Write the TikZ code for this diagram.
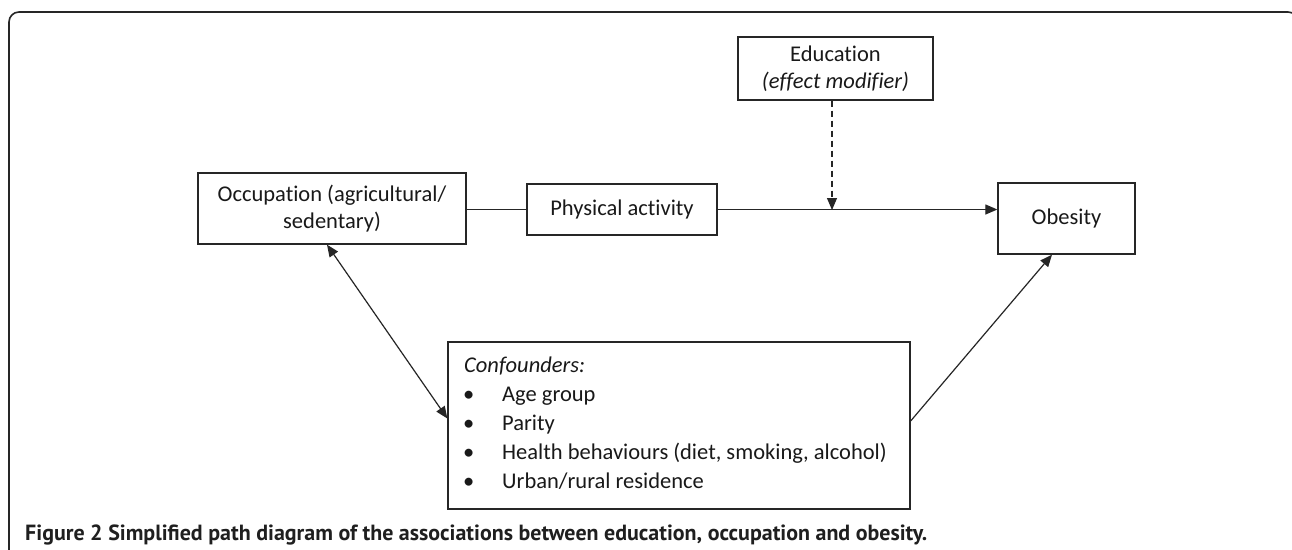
\documentclass[tikz,border=0pt]{standalone}
\usepackage{fontspec}
\setmainfont{Carlito}[Ligatures=NoCommon]
\newfontfamily\capfont{PT Sans}
\usetikzlibrary{arrows.meta}
\begin{document}
\begin{tikzpicture}[x=1pt,y=-1pt,
  box/.style={draw=black!85,line width=1.3pt,inner sep=0pt,align=center,font=\fontsize{22.5}{26.5}\selectfont,text=black!90},
  ltxt/.style={anchor=base west,inner sep=0pt,font=\fontsize{22.5}{27}\selectfont,text=black!90},
  conn/.style={draw=black!85,line width=1.2pt},
  tip/.style={-{Triangle[length=12pt,width=10pt]}},
  dtip/.style={{Triangle[length=12pt,width=10pt]}-{Triangle[length=12pt,width=10pt]}}]
\useasboundingbox (0,0) rectangle (1292,549);
\clip (0,0) rectangle (1292,549);
\fill[white] (0,0) rectangle (1292,549);
\draw[line width=1.6pt,rounded corners=10pt,black!85] (9,570) -- (9,12) -- (1298,12) -- (1298,570);
\node[box,minimum width=195pt,minimum height=63pt] (edu) at (835.5,68.5) {Education\\\textit{(effect modifier)}};
\node[box,minimum width=268pt,minimum height=71pt] (occ) at (332,208.5) {Occupation (agricultural/\\sedentary)};
\node[box,minimum width=190pt,minimum height=51pt] (pa) at (622,209.5) {Physical activity};
\node[box,minimum width=137pt,minimum height=71pt] (ob) at (1066.5,218.5) {Obesity};
\node[box,minimum width=462pt,minimum height=167pt] (conf) at (679,425.5) {};
\node[ltxt] (c0) at (464,372) {\textit{Confounders:}};
\node[ltxt] (b1) at (463,401) {•};
\node[ltxt] (c1) at (502,401) {Age group};
\node[ltxt] (b2) at (463,430) {•};
\node[ltxt] (c2) at (502,430) {Parity};
\node[ltxt] (b3) at (463,459) {•};
\node[ltxt] (c3) at (502,459) {Health behaviours (diet, smoking, alcohol)};
\node[ltxt] (b4) at (463,488) {•};
\node[ltxt] (c4) at (502,488) {Urban/rural residence};
\coordinate (mid) at (832,210);
\draw[conn] (pa.west -| occ.east) -- (pa.west);
\draw[conn,tip] (pa.east) -- (pa.east -| ob.west);
\draw[conn,tip,dashed,dash pattern=on 6pt off 4pt] (edu.south -| mid) -- (mid);
\draw[conn,dtip] ([xshift=-5pt]occ.south) -- ([yshift=7pt]conf.west);
\draw[conn,tip] ([yshift=4.5pt]conf.east) -- ([xshift=-14.5pt]ob.south);
\node[anchor=base west,inner sep=0pt,text=black!88] (cap) at (25,540) {\resizebox{902pt}{!}{\capfont\fontsize{18}{20}\selectfont\bfseries Figure 2 Simplified path diagram of the associations between education, occupation and obesity.}};
\end{tikzpicture}
\end{document}
